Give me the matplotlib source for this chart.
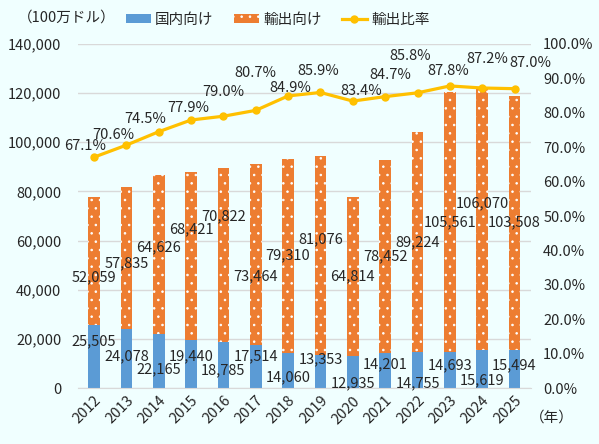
import matplotlib.pyplot as plt
import numpy as np
from matplotlib.ticker import FuncFormatter

plt.rcParams['font.family'] = ['Noto Sans CJK JP', 'DejaVu Sans']
plt.rcParams['hatch.linewidth'] = 0.6

years = ['2012', '2013', '2014', '2015', '2016', '2017', '2018',
         '2019', '2020', '2021', '2022', '2023', '2024', '2025']
domestic = [25505, 24078, 22165, 19440, 18785, 17514, 14060,
            13353, 12935, 14201, 14755, 14693, 15619, 15494]
export = [52059, 57835, 64626, 68421, 70822, 73464, 79310,
          81076, 64814, 78452, 89224, 105561, 106070, 103508]
ratio = [67.1, 70.6, 74.5, 77.9, 79.0, 80.7, 84.9,
         85.9, 83.4, 84.7, 85.8, 87.8, 87.2, 87.0]

bg = '#F0FFFF'
txt = '#262626'
blue = '#5B9BD5'
orange = '#ED7D31'
gold = '#FFC000'

# label nudges in pixels (the original labels are staggered to dodge each other)
dom_dy = [15, 2, -8, 8, -5, 10, -7, 12, -11, 6, -13, 5, -11, 4]
exp_dy = [-16, -5, 7, 27, 39, -22, 1, 16, 0, 0, 0, 0, 16, 0]
rat_dx = [-9, -13, -14, -3, 0, 0, 2, -2, 8, 5, -7, -2, 5, 16]
rat_dy = [11, 10, 13, 12, 24, 37, 8, 21, 10, 22, 37, 15, 29, 26]

fig = plt.figure(figsize=(5.99, 4.44), dpi=100, facecolor=bg)
ax = fig.add_axes([0.130, 0.126, 0.756, 0.775], facecolor=bg)
ax2 = ax.twinx()

x = np.arange(len(years))
w = 0.36
ax.bar(x, domestic, w, color=blue, zorder=2, label='国内向け')
ax.bar(x, export, w, bottom=domestic, color=orange, edgecolor='white',
       hatch='..', linewidth=0, zorder=2, label='輸出向け')

ax.set_ylim(0, 140000)
ax.set_xlim(-0.5, len(years) - 0.5)
ax.set_yticks(np.arange(0, 140001, 20000))
ax.yaxis.set_major_formatter(FuncFormatter(lambda v, p: f'{int(v):,}'))
ax.grid(axis='y', color='#D9D9D9', linewidth=1, zorder=0)
ax.set_axisbelow(True)
ax.set_xticks(x)
ax.set_xticklabels(years, rotation=45, ha='right', rotation_mode='anchor')
for s in ['top', 'right', 'left']:
    ax.spines[s].set_visible(False)
ax.spines['bottom'].set_color('#D9D9D9')
ax.tick_params(length=0, labelsize=10.5, colors=txt)
ax.tick_params(axis='y', pad=12)
ax.tick_params(axis='x', pad=4)

for i in range(len(years)):
    ax.annotate(f'{domestic[i]:,}', (x[i], domestic[i] / 2),
                xytext=(0, dom_dy[i]), textcoords='offset pixels',
                ha='center', va='center', fontsize=10.5, color=txt, zorder=5)
    ax.annotate(f'{export[i]:,}', (x[i], domestic[i] + export[i] / 2),
                xytext=(0, exp_dy[i]), textcoords='offset pixels',
                ha='center', va='center', fontsize=10.5, color=txt, zorder=5)

ax2.plot(x, ratio, color=gold, linewidth=2.3, marker='o', markersize=5,
         zorder=4, label='輸出比率')
ax2.set_ylim(0, 100)
ax2.set_yticks(np.arange(0, 101, 10))
ax2.yaxis.set_major_formatter(FuncFormatter(lambda v, p: f'{v:.1f}%'))
for s in ax2.spines.values():
    s.set_visible(False)
ax2.tick_params(length=0, labelsize=10.5, colors=txt, pad=9)

for i in range(len(years)):
    ax2.annotate(f'{ratio[i]:.1f}%', (x[i], ratio[i]),
                 xytext=(rat_dx[i], rat_dy[i]), textcoords='offset pixels',
                 ha='center', va='center', fontsize=10.5, color=txt, zorder=6)

h1, l1 = ax.get_legend_handles_labels()
h2, l2 = ax2.get_legend_handles_labels()
fig.legend(h1 + h2, l1 + l2, loc='center left', bbox_to_anchor=(0.188, 0.955),
           ncol=3, frameon=False, fontsize=10.5, handlelength=1.7,
           handleheight=0.6, handletextpad=0.3, columnspacing=1.4,
           labelcolor=txt)

fig.text(0.03, 0.96, '（100万ドル）', ha='left', va='center', fontsize=10.5, color=txt)
fig.text(0.885, 0.06, '（年）', ha='left', va='center', fontsize=10.5, color=txt)

fig.savefig('out.png', dpi=100, facecolor=bg)
